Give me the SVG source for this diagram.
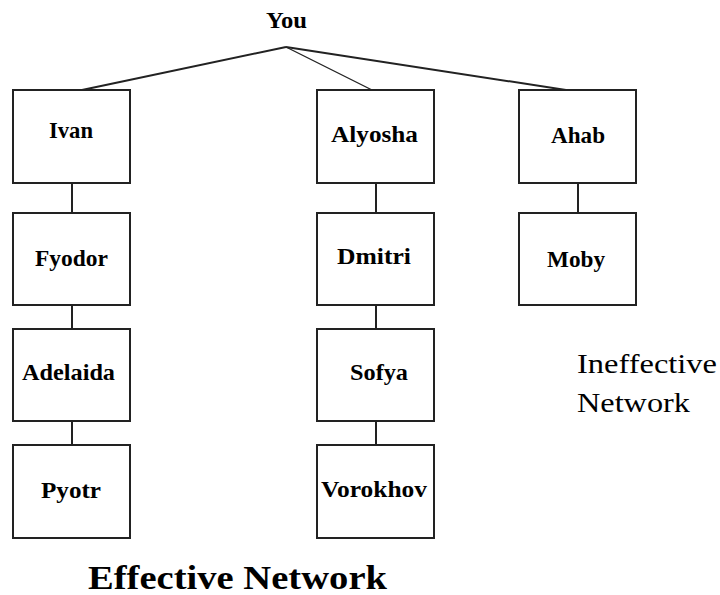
<svg xmlns="http://www.w3.org/2000/svg" width="720" height="595" viewBox="0 0 720 595">
<style>
.box{fill:#fff;stroke:#222;stroke-width:2}
.lbl{font-family:"Liberation Serif","Times New Roman",serif;font-weight:bold;font-size:24px;fill:#000}
.conn line{stroke:#222;stroke-width:2}
.big{font-family:"Liberation Serif","Times New Roman",serif;fill:#000}
</style>
<rect width="720" height="595" fill="#fff"/>
<g id="connectors" class="conn">
<line x1="286" y1="47" x2="82" y2="90"/>
<line x1="286" y1="47" x2="372" y2="90" style="stroke-width:1.3"/>
<line x1="286" y1="47" x2="566" y2="90"/>
<line x1="72" y1="183" x2="72" y2="213"/>
<line x1="72" y1="305" x2="72" y2="329"/>
<line x1="72" y1="421" x2="72" y2="445"/>
<line x1="376" y1="183" x2="376" y2="213"/>
<line x1="376" y1="305" x2="376" y2="329"/>
<line x1="376" y1="421" x2="376" y2="445"/>
<line x1="578" y1="183" x2="578" y2="213"/>
</g>
<g id="you"><text class="lbl" x="266" y="28" textLength="41" lengthAdjust="spacingAndGlyphs">You</text></g>
<g id="ivan"><rect class="box" x="13" y="90" width="117" height="93"/><text class="lbl" x="49" y="138" textLength="44" lengthAdjust="spacingAndGlyphs">Ivan</text></g>
<g id="fyodor"><rect class="box" x="13" y="213" width="117" height="92"/><text class="lbl" x="35" y="266" textLength="73" lengthAdjust="spacingAndGlyphs">Fyodor</text></g>
<g id="adelaida"><rect class="box" x="13" y="329" width="117" height="92"/><text class="lbl" x="22" y="380" textLength="93" lengthAdjust="spacingAndGlyphs">Adelaida</text></g>
<g id="pyotr"><rect class="box" x="13" y="445" width="117" height="93"/><text class="lbl" x="41" y="498" textLength="60" lengthAdjust="spacingAndGlyphs">Pyotr</text></g>
<g id="alyosha"><rect class="box" x="317" y="90" width="117" height="93"/><text class="lbl" x="331" y="142" textLength="87" lengthAdjust="spacingAndGlyphs">Alyosha</text></g>
<g id="dmitri"><rect class="box" x="317" y="213" width="117" height="92"/><text class="lbl" x="337" y="264" textLength="74" lengthAdjust="spacingAndGlyphs">Dmitri</text></g>
<g id="sofya"><rect class="box" x="317" y="329" width="117" height="92"/><text class="lbl" x="350" y="380" textLength="58" lengthAdjust="spacingAndGlyphs">Sofya</text></g>
<g id="vorokhov"><rect class="box" x="317" y="445" width="117" height="93"/><text class="lbl" x="321" y="497" textLength="106" lengthAdjust="spacingAndGlyphs">Vorokhov</text></g>
<g id="ahab"><rect class="box" x="519" y="90" width="117" height="93"/><text class="lbl" x="551" y="143" textLength="54" lengthAdjust="spacingAndGlyphs">Ahab</text></g>
<g id="moby"><rect class="box" x="519" y="213" width="117" height="92"/><text class="lbl" x="547" y="267" textLength="58" lengthAdjust="spacingAndGlyphs">Moby</text></g>
<g id="ineffective-label"><text class="big" font-size="27" x="577" y="373" textLength="140" lengthAdjust="spacingAndGlyphs">Ineffective</text><text class="big" font-size="27" x="577" y="412" textLength="113" lengthAdjust="spacingAndGlyphs">Network</text></g>
<g id="effective-label"><text class="big" font-weight="bold" font-size="34" x="88" y="589" textLength="299" lengthAdjust="spacingAndGlyphs">Effective Network</text></g>
</svg>
